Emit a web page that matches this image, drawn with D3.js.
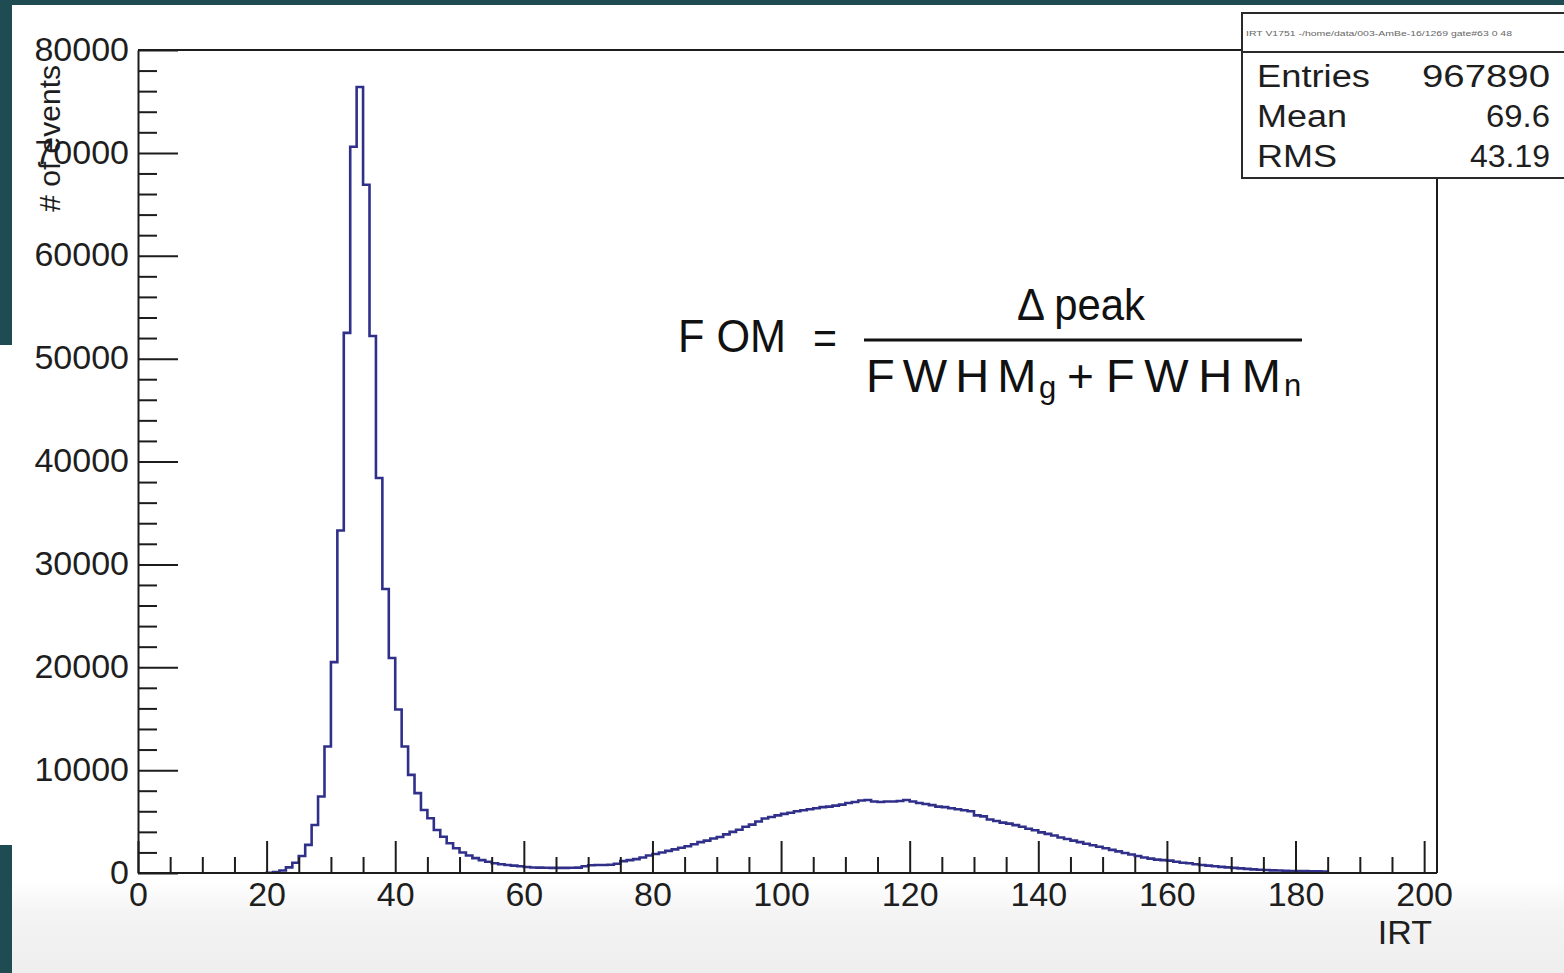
<!DOCTYPE html>
<html>
<head>
<meta charset="utf-8">
<script src="https://cdn.jsdelivr.net/npm/d3@7"></script>
<style>
  html, body { margin: 0; padding: 0; background: #ffffff; }
  svg { display: block; }
  text { font-family: "Liberation Sans", Arial, Helvetica, sans-serif; }
</style>
</head>
<body>
<svg id="chart" width="1564" height="973"></svg>
<script>
// ---------- data ----------
const binStart = 20;          // lower edge of first non-empty bin (IRT)
const binWidth = 1;           // IRT units per bin
const counts = [
  20, 100, 250, 550, 1000, 1650, 2730, 4670, 7430, 12290,          // 20-29
  20500, 33300, 52500, 70600, 76400, 66900, 52200, 38400, 27600, 20900, // 30-39
  15900, 12300, 9540, 7760, 6130, 5320, 4180, 3530, 2890, 2400,    // 40-49
  2000, 1700, 1450, 1250, 1100, 950, 850, 780, 720, 650,           // 50-59
  580, 540, 520, 510, 500, 500, 500, 510, 520, 650,                // 60-69
  760, 780, 780, 800, 900, 1150, 1250, 1350, 1500, 1700,           // 70-79
  1850, 2000, 2150, 2300, 2450, 2600, 2800, 3000, 3150, 3350,      // 80-89
  3500, 3750, 4000, 4200, 4500, 4700, 5000, 5300, 5450, 5600,      // 90-99
  5750, 5850, 6000, 6100, 6200, 6300, 6400, 6450, 6550, 6650,      // 100-109
  6800, 6900, 7050, 7100, 6950, 6900, 6950, 6950, 7000, 7100,      // 110-119
  6950, 6800, 6700, 6600, 6450, 6400, 6300, 6200, 6100, 6000,      // 120-129
  5600, 5500, 5200, 5050, 4900, 4800, 4650, 4500, 4300, 4150,      // 130-139
  3950, 3800, 3650, 3450, 3300, 3150, 3000, 2850, 2700, 2550,      // 140-149
  2400, 2250, 2100, 1950, 1800, 1650, 1500, 1400, 1300, 1250,      // 150-159
  1200, 1100, 1000, 950, 850, 780, 720, 650, 600, 550,             // 160-169
  500, 450, 400, 350, 320, 290, 260, 240, 220, 200,                // 170-179
  190, 180, 170, 160, 150                                          // 180-184
];
const xMajorTicks = [0, 20, 40, 60, 80, 100, 120, 140, 160, 180, 200];
const xTickLabels = ["0", "20", "40", "60", "80", "100", "120", "140", "160", "180", "200"];
const yMajorTicks = [0, 10000, 20000, 30000, 40000, 50000, 60000, 70000, 80000];
const yTickLabels = ["0", "10000", "20000", "30000", "40000", "50000", "60000", "70000", "80000"];
const xDomain = [0, 202];
const yDomain = [0, 80000];
const statsTitle = "IRT V1751 -/home/data/003-AmBe-16/1269 gate#63 0 48";
const statsNames = ["Entries", "Mean", "RMS"];
const statsValues = ["967890", "69.6", "43.19"];
const xTitle = "IRT";
const yTitle = "# of events";

(function () {
// ---------- layout ----------
const svg = d3.select("#chart");
const W = 1564, H = 973;
const pL = 138, pR = 1437, pT = 50, pB = 873;
const axisColor = "#1c1c1c";
const lineColor = "#30308a";

// background
const defs = svg.append("defs");
const grad = defs.append("linearGradient").attr("id", "bottomGrad")
  .attr("x1", 0).attr("y1", 0).attr("x2", 0).attr("y2", 1);
grad.append("stop").attr("offset", "0%").attr("stop-color", "#ffffff");
grad.append("stop").attr("offset", "35%").attr("stop-color", "#f4f4f4");
grad.append("stop").attr("offset", "100%").attr("stop-color", "#eeeeee");

svg.append("rect").attr("width", W).attr("height", H).attr("fill", "#ffffff");
svg.append("rect").attr("x", 0).attr("y", 880).attr("width", W).attr("height", H - 880).attr("fill", "url(#bottomGrad)");
svg.append("rect").attr("x", 0).attr("y", 0).attr("width", W).attr("height", 5).attr("fill", "#1f4b53");
svg.append("rect").attr("x", 0).attr("y", 0).attr("width", 12).attr("height", 345).attr("fill", "#1f4b53");
svg.append("rect").attr("x", 0).attr("y", 845).attr("width", 12).attr("height", H - 845).attr("fill", "#1f4b53");

// scales
const x = d3.scaleLinear().domain(xDomain).range([pL, pR]);
const y = d3.scaleLinear().domain(yDomain).range([pB, pT]);

// frame (top + right)
svg.append("path")
  .attr("d", `M${pL},${pT}H${pR}V${pB}`)
  .attr("fill", "none").attr("stroke", axisColor).attr("stroke-width", 2);

// histogram outline
const pts = [[binStart, 0]];
counts.forEach((c, i) => pts.push([binStart + i * binWidth, c]));
pts.push([binStart + counts.length * binWidth, 0]);
const line = d3.line().x(d => x(d[0])).y(d => y(d[1])).curve(d3.curveStepAfter);
svg.append("path").attr("d", line(pts))
  .attr("fill", "none").attr("stroke", lineColor).attr("stroke-width", 2.6)
  .attr("stroke-linejoin", "miter");

// axes
const fontSize = 34;
const xMinor = d3.range(0, 201, 5).filter(v => v % 20 !== 0);
const yMinor = d3.range(0, 80001, 2000).filter(v => v % 10000 !== 0);

const gx = svg.append("g").attr("transform", `translate(0,${pB})`);
gx.call(d3.axisBottom(x).tickValues(xMajorTicks)
  .tickFormat((d, i) => xTickLabels[i]).tickSize(-32).tickSizeOuter(0).tickPadding(9));
gx.select(".domain").attr("d", `M${pL},0H${pR}`);
const gxm = svg.append("g").attr("transform", `translate(0,${pB})`);
gxm.call(d3.axisBottom(x).tickValues(xMinor).tickFormat("").tickSize(-16).tickSizeOuter(0));
gxm.select(".domain").remove();

const gy = svg.append("g").attr("transform", `translate(${pL},0)`);
gy.call(d3.axisLeft(y).tickValues(yMajorTicks)
  .tickFormat((d, i) => yTickLabels[i]).tickSize(-40).tickSizeOuter(0).tickPadding(9));
const gym = svg.append("g").attr("transform", `translate(${pL},0)`);
gym.call(d3.axisLeft(y).tickValues(yMinor).tickFormat("").tickSize(-19).tickSizeOuter(0));
gym.select(".domain").remove();

[gx, gxm, gy, gym].forEach(g => {
  g.selectAll("path.domain").attr("stroke", axisColor).attr("stroke-width", 2);
  g.selectAll(".tick line").attr("stroke", axisColor).attr("stroke-width", 2);
  g.selectAll(".tick text").attr("fill", "#1e1e1e").attr("font-size", fontSize)
    .attr("font-family", "Liberation Sans, Arial, sans-serif");
});
gy.selectAll(".tick text").attr("dy", "0.30em");

// axis titles
svg.append("text").attr("x", 1432).attr("y", 944).attr("text-anchor", "end")
  .attr("font-size", 34).attr("fill", "#1e1e1e").text(xTitle);
svg.append("text").attr("transform", "translate(60,65) rotate(-90)")
  .attr("text-anchor", "end").attr("font-size", 30).attr("fill", "#1e1e1e").text(yTitle);

// stats box
const bx = 1242, by = 13, bw = 340, bh = 165;
svg.append("rect").attr("x", bx).attr("y", by).attr("width", bw).attr("height", bh)
  .attr("fill", "#ffffff").attr("stroke", "#2a2a2a").attr("stroke-width", 2);
svg.append("line").attr("x1", bx).attr("x2", bx + bw).attr("y1", 52).attr("y2", 52)
  .attr("stroke", "#2a2a2a").attr("stroke-width", 2);
svg.append("text").attr("x", 1246).attr("y", 36).attr("font-size", 8).attr("fill", "#666")
  .attr("textLength", 266).attr("lengthAdjust", "spacingAndGlyphs").text(statsTitle);
const nameLens = [113, 90, 80];
const valLens = [128, 64, 80];
statsNames.forEach((n, i) => {
  const yy = 87 + i * 40;
  svg.append("text").attr("x", 1257).attr("y", yy).attr("font-size", 31).attr("fill", "#1e1e1e")
    .attr("textLength", nameLens[i]).attr("lengthAdjust", "spacingAndGlyphs").text(n);
  svg.append("text").attr("x", 1550).attr("y", yy).attr("font-size", 31).attr("fill", "#1e1e1e")
    .attr("text-anchor", "end")
    .attr("textLength", valLens[i]).attr("lengthAdjust", "spacingAndGlyphs").text(statsValues[i]);
});

// FOM formula annotation
const f = svg.append("g").attr("fill", "#111");
f.append("text").attr("x", 678).attr("y", 352).attr("font-size", 47)
  .attr("textLength", 108).attr("lengthAdjust", "spacingAndGlyphs").text("F OM");
f.append("text").attr("x", 813).attr("y", 354).attr("font-size", 46)
  .attr("textLength", 24).attr("lengthAdjust", "spacingAndGlyphs").text("=");
f.append("text").attr("x", 1017).attr("y", 320).attr("font-size", 45)
  .attr("textLength", 128).attr("lengthAdjust", "spacingAndGlyphs").text("\u0394 peak");
f.append("rect").attr("x", 864).attr("y", 338.5).attr("width", 438).attr("height", 3);
const den = f.append("text").attr("x", 866).attr("y", 392).attr("font-size", 47);
den.append("tspan").attr("x", 866).attr("word-spacing", -5).text("F W H M");
den.append("tspan").attr("x", 1039).attr("dy", 6).attr("font-size", 31).text("g");
den.append("tspan").attr("x", 1067).attr("dy", -6).attr("font-size", 46).text("+");
den.append("tspan").attr("x", 1106).attr("word-spacing", -3.5).text("F W H M");
den.append("tspan").attr("x", 1284).attr("dy", 4).attr("font-size", 31).text("n");
})();
</script>
</body>
</html>
